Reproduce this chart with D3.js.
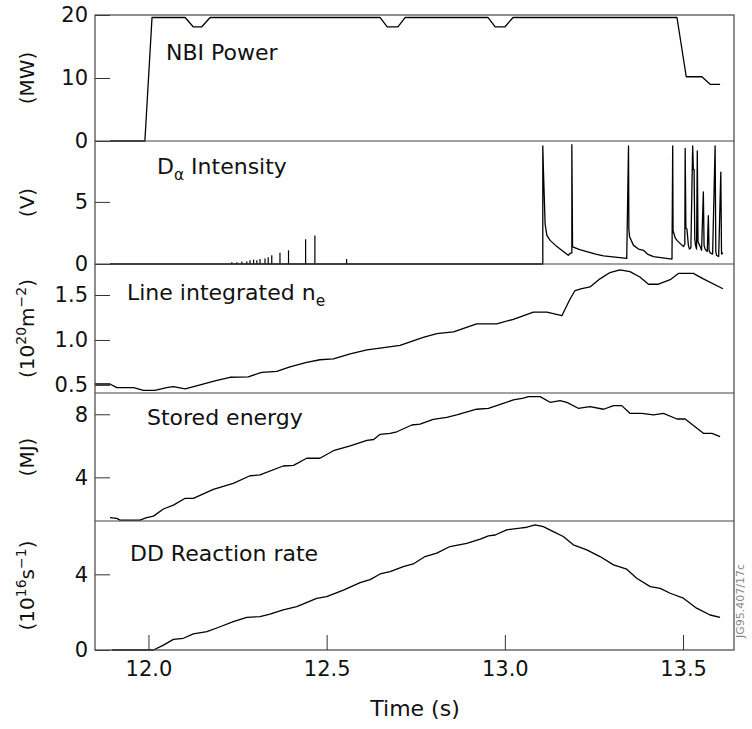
<!DOCTYPE html>
<html>
<head>
<meta charset="utf-8">
<script src="https://cdn.jsdelivr.net/npm/d3@7"></script>
<style>
  body { margin: 0; background: #fff; }
  svg text { font-family: "DejaVu Sans", Verdana, sans-serif; fill: #111; }
</style>
</head>
<body>
<div id="chart"></div>
<script>
// Time axis
const timeTicks = [12.0, 12.5, 13.0, 13.5];

// NBI power (MW)
const nbiT = [11.892, 11.99, 12.01, 12.103, 12.126, 12.149, 12.173, 12.65, 12.67, 12.70, 12.72, 12.953, 12.973, 13.0, 13.023, 13.483, 13.509, 13.553, 13.576, 13.604];
const nbiV = [0, 0, 19.6, 19.6, 18.1, 18.1, 19.6, 19.6, 18.1, 18.1, 19.6, 19.6, 18.1, 18.1, 19.6, 19.6, 10.2, 10.2, 9.0, 9.0];

// D-alpha: small spikes before the first ELM
const spikeT = [12.234, 12.248, 12.262, 12.276, 12.285, 12.295, 12.304, 12.313, 12.327, 12.336, 12.346, 12.369, 12.393, 12.441, 12.467, 12.556];
const spikeV = [0.15, 0.15, 0.2, 0.2, 0.3, 0.35, 0.3, 0.4, 0.45, 0.55, 0.7, 0.9, 1.1, 2.0, 2.3, 0.4];

// D-alpha trace (V)
const daT = [11.892, 13.1065, 13.1065, 13.108, 13.110, 13.113, 13.118, 13.127, 13.146, 13.164, 13.178, 13.183, 13.188, 13.188, 13.190, 13.192, 13.210, 13.230, 13.255, 13.277, 13.342, 13.347, 13.348, 13.350, 13.361, 13.375, 13.389, 13.400, 13.417, 13.469, 13.471, 13.472, 13.478, 13.483, 13.501, 13.505, 13.506, 13.508, 13.511, 13.515, 13.518, 13.522, 13.527, 13.529, 13.531, 13.533, 13.535, 13.538, 13.540, 13.542, 13.548, 13.552, 13.557, 13.559, 13.562, 13.568, 13.571, 13.573, 13.576, 13.583, 13.590, 13.592, 13.594, 13.600, 13.606, 13.608, 13.612];
const daV = [0, 0, 9.5, 7.8, 6.0, 3.2, 2.3, 1.9, 1.4, 1.0, 0.7, 0.85, 0.9, 9.6, 1.4, 1.35, 1.15, 1.0, 0.8, 0.65, 0.45, 9.5, 2.8, 2.2, 1.5, 1.2, 1.1, 0.8, 0.6, 0.4, 9.5, 2.7, 2.1, 1.9, 1.4, 1.6, 9.3, 2.9, 2.8, 1.5, 1.2, 1.3, 9.5, 7.6, 7.6, 2.0, 1.5, 1.2, 9.1, 1.8, 1.4, 1.1, 5.8, 1.5, 1.2, 1.0, 3.9, 1.1, 0.9, 0.8, 9.5, 1.0, 0.7, 0.6, 7.4, 0.8, 0.9];

// Line integrated density (1e20 m^-2)
const neT = [11.850, 11.892, 11.911, 11.958, 11.986, 12.018, 12.051, 12.070, 12.103, 12.145, 12.192, 12.229, 12.280, 12.318, 12.360, 12.397, 12.444, 12.481, 12.519, 12.566, 12.613, 12.650, 12.706, 12.771, 12.809, 12.856, 12.921, 12.977, 13.024, 13.080, 13.118, 13.160, 13.183, 13.197, 13.216, 13.239, 13.267, 13.295, 13.323, 13.351, 13.379, 13.403, 13.431, 13.464, 13.487, 13.529, 13.557, 13.612];
const neV = [0.51, 0.51, 0.47, 0.47, 0.44, 0.44, 0.47, 0.48, 0.455, 0.50, 0.55, 0.585, 0.59, 0.64, 0.65, 0.70, 0.75, 0.78, 0.79, 0.845, 0.89, 0.91, 0.94, 1.03, 1.07, 1.09, 1.18, 1.18, 1.23, 1.31, 1.31, 1.27, 1.456, 1.55, 1.57, 1.59, 1.68, 1.75, 1.78, 1.76, 1.70, 1.62, 1.62, 1.67, 1.74, 1.74, 1.68, 1.57];

// Stored energy (MJ)
const weT = [11.892, 11.911, 11.920, 11.976, 11.995, 12.014, 12.042, 12.070, 12.103, 12.126, 12.182, 12.238, 12.285, 12.313, 12.378, 12.407, 12.444, 12.481, 12.519, 12.566, 12.613, 12.632, 12.650, 12.678, 12.697, 12.739, 12.762, 12.799, 12.837, 12.865, 12.921, 12.954, 12.987, 13.024, 13.052, 13.066, 13.099, 13.127, 13.155, 13.174, 13.206, 13.239, 13.277, 13.305, 13.328, 13.351, 13.384, 13.417, 13.445, 13.483, 13.506, 13.557, 13.581, 13.604];
const weV = [1.44, 1.40, 1.29, 1.29, 1.44, 1.54, 1.99, 2.24, 2.67, 2.67, 3.24, 3.62, 4.10, 4.15, 4.72, 4.76, 5.21, 5.21, 5.69, 5.99, 6.35, 6.40, 6.73, 6.79, 6.89, 7.32, 7.37, 7.68, 7.81, 7.96, 8.32, 8.38, 8.63, 8.91, 9.02, 9.12, 9.12, 8.76, 8.86, 8.76, 8.38, 8.48, 8.32, 8.55, 8.55, 8.06, 8.06, 7.96, 8.06, 7.70, 7.70, 6.79, 6.79, 6.58];

// DD reaction rate (1e16 s^-1)
const ddT = [11.897, 12.014, 12.042, 12.070, 12.098, 12.126, 12.164, 12.201, 12.238, 12.276, 12.313, 12.341, 12.378, 12.416, 12.472, 12.500, 12.547, 12.594, 12.622, 12.650, 12.678, 12.715, 12.743, 12.776, 12.809, 12.846, 12.893, 12.931, 12.954, 12.973, 13.005, 13.043, 13.062, 13.085, 13.108, 13.136, 13.164, 13.192, 13.230, 13.267, 13.305, 13.342, 13.370, 13.408, 13.436, 13.464, 13.501, 13.538, 13.576, 13.604];
const ddV = [0, 0, 0.26, 0.56, 0.62, 0.85, 0.97, 1.23, 1.50, 1.73, 1.76, 1.90, 2.12, 2.29, 2.73, 2.82, 3.17, 3.56, 3.72, 4.02, 4.14, 4.41, 4.55, 4.94, 5.12, 5.47, 5.64, 5.86, 6.03, 6.08, 6.35, 6.44, 6.49, 6.61, 6.52, 6.26, 6.00, 5.56, 5.29, 4.94, 4.50, 4.27, 3.79, 3.35, 3.26, 3.00, 2.74, 2.21, 1.85, 1.73];

const W = 752, H = 729;
const left = 95, right = 734;
const bounds = [15, 141, 264, 393, 521, 650];
const FONT = '"DejaVu Sans", Verdana, sans-serif';

const svg = d3.select('#chart').append('svg')
  .attr('width', W)
  .attr('height', H);

const x = d3.scaleLinear().domain([11.85, 13.643]).range([left, right]);

const zip = (t, v) => t.map((d, i) => [d, v[i]]);

const panels = [
  {domain: [0, 20], ticks: [0, 10, 20], fmt: d3.format('d'), t: nbiT, v: nbiV,
   label: [['(MW)']], title: [['NBI Power']], tx: 166, ty: 60},
  {domain: [0, 9.9], ticks: [0, 5], fmt: d3.format('d'), t: daT, v: daV,
   label: [['(V)']], title: [['D'], ['α', 'sub'], [' Intensity']], tx: 157, ty: 174},
  {domain: [0.41, 1.845], ticks: [0.5, 1.0, 1.5], fmt: d3.format('.1f'), t: neT, v: neV,
   label: [['(10'], ['20', 'sup'], ['m'], ['−2', 'sup'], [')']], title: [['Line integrated n'], ['e', 'sub']], tx: 127, ty: 300},
  {domain: [1.23, 9.35], ticks: [4, 8], fmt: d3.format('d'), t: weT, v: weV,
   label: [['(MJ)']], title: [['Stored energy']], tx: 147, ty: 425},
  {domain: [0, 6.82], ticks: [0, 4], fmt: d3.format('d'), t: ddT, v: ddV,
   label: [['(10'], ['16', 'sup'], ['s'], ['−1', 'sup'], [')']], title: [['DD Reaction rate']], tx: 130, ty: 561}
];

// Write a text made of plain, sub and superscript pieces
function addPieces(text, pieces, size) {
  let shift = 0;
  pieces.forEach(([s, kind]) => {
    const ts = text.append('tspan').text(s);
    let dy = 0;
    if (kind === 'sub') dy = size * 0.25;
    if (kind === 'sup') dy = -size * 0.4;
    if (kind) ts.attr('font-size', size * 0.7);
    // move to the new level, coming back from the previous one
    if (dy - shift !== 0) ts.attr('dy', dy - shift);
    shift = dy;
  });
}

const line = d3.line();

panels.forEach((p, i) => {
  const top = bounds[i], bottom = bounds[i + 1];
  const y = d3.scaleLinear().domain(p.domain).range([bottom, top]);

  const g = svg.append('g');

  // Ticks inside the frame
  const ax = g.append('g')
    .attr('transform', 'translate(' + left + ',0)')
    .call(d3.axisLeft(y).tickValues(p.ticks).tickFormat(p.fmt)
      .tickSizeInner(-15).tickSizeOuter(0).tickPadding(7));
  ax.select('.domain').remove();
  ax.selectAll('line').attr('stroke', '#333').attr('stroke-width', 1);
  ax.selectAll('text')
    .attr('font-size', 21)
    .attr('font-family', FONT)
    .attr('fill', '#111');

  // Trace
  line.x(d => x(d[0])).y(d => y(d[1]));
  g.append('path')
    .datum(zip(p.t, p.v))
    .attr('d', line)
    .attr('fill', 'none')
    .attr('stroke', '#000')
    .attr('stroke-width', 1.3)
    .attr('stroke-linejoin', 'round');

  if (i === 1) {
    g.selectAll('.spike')
      .data(zip(spikeT, spikeV))
      .enter()
      .append('line')
      .attr('class', 'spike')
      .attr('x1', d => x(d[0])).attr('x2', d => x(d[0]))
      .attr('y1', y(0)).attr('y2', d => y(d[1]))
      .attr('stroke', '#000')
      .attr('stroke-width', 1.2);
  }

  // Panel title
  const title = g.append('text')
    .attr('x', p.tx).attr('y', p.ty)
    .attr('font-size', 22);
  addPieces(title, p.title, 22);

  // Units label
  const lab = g.append('text')
    .attr('transform', 'translate(27,' + ((top + bottom) / 2) + ') rotate(-90)')
    .attr('text-anchor', 'middle')
    .attr('y', 7)
    .attr('font-size', 20);
  addPieces(lab, p.label, 20);
});

// Frame
svg.append('rect')
  .attr('x', left).attr('y', bounds[0])
  .attr('width', right - left).attr('height', bounds[5] - bounds[0])
  .attr('fill', 'none').attr('stroke', '#444').attr('stroke-width', 1.2);

svg.selectAll('.sep')
  .data(bounds.slice(1, 5))
  .enter()
  .append('line')
  .attr('class', 'sep')
  .attr('x1', left).attr('x2', right)
  .attr('y1', d => d).attr('y2', d => d)
  .attr('stroke', '#444').attr('stroke-width', 1.2);

// Time axis
const xa = svg.append('g')
  .attr('transform', 'translate(0,' + bounds[5] + ')')
  .call(d3.axisBottom(x).tickValues(timeTicks).tickFormat(d3.format('.1f'))
    .tickSizeInner(-15).tickSizeOuter(0).tickPadding(11));
xa.select('.domain').remove();
xa.selectAll('line').attr('stroke', '#333').attr('stroke-width', 1);
xa.selectAll('text')
  .attr('font-size', 21)
  .attr('font-family', FONT)
  .attr('fill', '#111');

svg.append('text')
  .attr('x', 415).attr('y', 716)
  .attr('text-anchor', 'middle')
  .attr('font-size', 22)
  .text('Time (s)');

svg.append('text')
  .attr('transform', 'translate(744,601) rotate(-90)')
  .attr('text-anchor', 'middle')
  .attr('font-size', 11)
  .style('fill', '#888')
  .text('JG95.407/17c');
</script>
</body>
</html>
